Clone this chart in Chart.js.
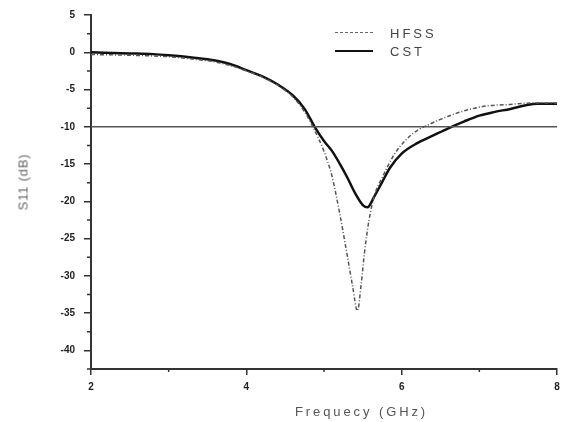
<!DOCTYPE html>
<html>
<head>
<meta charset="utf-8">
<script src="https://cdn.jsdelivr.net/npm/chart.js"></script>
<style>
  body { margin: 0; background: #fff; }
  #wrap { position: relative; width: 584px; height: 422px; font-family: "Liberation Sans", Arial, sans-serif; color: #444; }
  .lbl { position: absolute; font-size: 13px; white-space: nowrap; line-height: 13px; }
  .key { position: absolute; width: 38px; height: 0; }
</style>
</head>
<body>
<div id="wrap">
  <canvas id="plot" width="584" height="422"></canvas>
  <div class="key" style="left:335px; top:32px; border-top:1.5px dashed #666;"></div>
  <div class="lbl" style="left:390px; top:27px; letter-spacing:3px;">HFSS</div>
  <div class="key" style="left:335px; top:50px; border-top:2.5px solid #111;"></div>
  <div class="lbl" style="left:390px; top:45px; letter-spacing:3px;">CST</div>
  <div class="lbl" style="left:295px; top:405px; letter-spacing:2.9px; color:#555;">Frequecy (GHz)</div>
  <div class="lbl" style="left:23px; top:182px; letter-spacing:0.8px; color:#666; transform:translate(-50%,-50%) rotate(-90deg);">S11 (dB)</div>
</div>
<script>
const cstFreq = [2, 2.5, 2.8, 3.0, 3.3, 3.6, 3.8, 4.0, 4.2, 4.4, 4.6, 4.75, 4.88, 5.0, 5.1, 5.2, 5.3, 5.4, 5.5, 5.56, 5.65, 5.75, 5.85, 6.0, 6.2, 6.4, 6.6, 6.8, 7.0, 7.2, 7.4, 7.6, 7.75, 8.0];
const cstS11 = [0, -0.15, -0.25, -0.4, -0.7, -1.1, -1.6, -2.4, -3.2, -4.3, -5.8, -7.6, -10.0, -11.9, -13.2, -14.9, -16.8, -18.9, -20.5, -20.8, -19.3, -17.4, -15.5, -13.6, -12.2, -11.2, -10.2, -9.3, -8.5, -8.0, -7.6, -7.1, -6.9, -6.9];

const hfssFreq = [2, 2.5, 3.0, 3.3, 3.6, 3.8, 4.0, 4.2, 4.4, 4.6, 4.75, 4.88, 5.0, 5.1, 5.2, 5.3, 5.37, 5.43, 5.48, 5.52, 5.58, 5.65, 5.75, 5.9, 6.05, 6.2, 6.35, 6.5, 6.7, 6.9, 7.1, 7.4, 7.7, 8.0];
const hfssS11 = [-0.3, -0.4, -0.6, -0.9, -1.3, -1.8, -2.5, -3.3, -4.4, -6.0, -8.0, -10.5, -13.3, -16.5, -21.5, -27.3, -31.5, -34.7, -31, -27, -22.5, -19.2, -16.8, -13.8, -11.8, -10.5, -9.7, -9.0, -8.2, -7.6, -7.2, -7.0, -6.8, -6.8];

const refLevel = -10;
const xMajor = [2, 4, 6, 8];
const xMinor = [3, 5, 7];
const yMajor = [5, 0, -5, -10, -15, -20, -25, -30, -35, -40];
const yMinor = [2.5, -2.5, -7.5, -12.5, -17.5, -22.5, -27.5, -32.5, -37.5, -42.5];

const toPoints = (xs, ys) => xs.map((x, i) => ({ x, y: ys[i] }));

const minorTicks = {
  id: 'minorTicks',
  afterDraw(chart) {
    const { ctx, scales: { x, y } } = chart;
    ctx.save();
    ctx.strokeStyle = '#333';
    ctx.lineWidth = 1.5;
    ctx.beginPath();
    yMinor.forEach(v => {
      const py = y.getPixelForValue(v);
      ctx.moveTo(y.right - 4, py);
      ctx.lineTo(y.right, py);
    });
    xMinor.forEach(v => {
      const px = x.getPixelForValue(v);
      ctx.moveTo(px, x.top);
      ctx.lineTo(px, x.top + 3);
    });
    ctx.stroke();
    ctx.restore();
  }
};

const axisStyle = {
  grid: { display: true, drawOnChartArea: false, drawTicks: true, color: '#333', lineWidth: 1.5 },
  border: { display: true, color: '#333', width: 2 }
};

new Chart(document.getElementById('plot'), {
  type: 'line',
  data: {
    datasets: [
      {
        label: 'ref',
        data: toPoints([xMajor[0], xMajor[xMajor.length - 1]], [refLevel, refLevel]),
        borderColor: '#555',
        borderWidth: 1.5
      },
      {
        label: 'HFSS',
        data: toPoints(hfssFreq, hfssS11),
        borderColor: '#555',
        borderWidth: 1.5,
        borderDash: [4, 2, 1, 2],
        cubicInterpolationMode: 'monotone'
      },
      {
        label: 'CST',
        data: toPoints(cstFreq, cstS11),
        borderColor: '#111',
        borderWidth: 2.5,
        cubicInterpolationMode: 'monotone'
      }
    ]
  },
  options: {
    responsive: false,
    animation: false,
    layout: { padding: { left: 0, right: 27, top: 15, bottom: 0 } },
    elements: { point: { radius: 0 } },
    plugins: { legend: { display: false }, tooltip: { enabled: false } },
    scales: {
      x: {
        type: 'linear',
        min: 2,
        max: 8,
        ...axisStyle,
        grid: { ...axisStyle.grid, tickLength: 6 },
        afterBuildTicks: (s) => { s.ticks = xMajor.map(v => ({ value: v })); },
        afterFit: (s) => { s.height = 53; },
        ticks: { padding: 6, color: '#222', font: { family: 'Liberation Sans', size: 10, weight: 'bold' }, maxRotation: 0 }
      },
      y: {
        type: 'linear',
        min: -42.5,
        max: 5,
        ...axisStyle,
        grid: { ...axisStyle.grid, tickLength: 7 },
        afterBuildTicks: (s) => { s.ticks = yMajor.map(v => ({ value: v })); },
        afterFit: (s) => { s.width = 91; },
        ticks: { padding: 9, color: '#222', font: { family: 'Liberation Sans', size: 10, weight: 'bold' } }
      }
    }
  },
  plugins: [minorTicks]
});
</script>
</body>
</html>
